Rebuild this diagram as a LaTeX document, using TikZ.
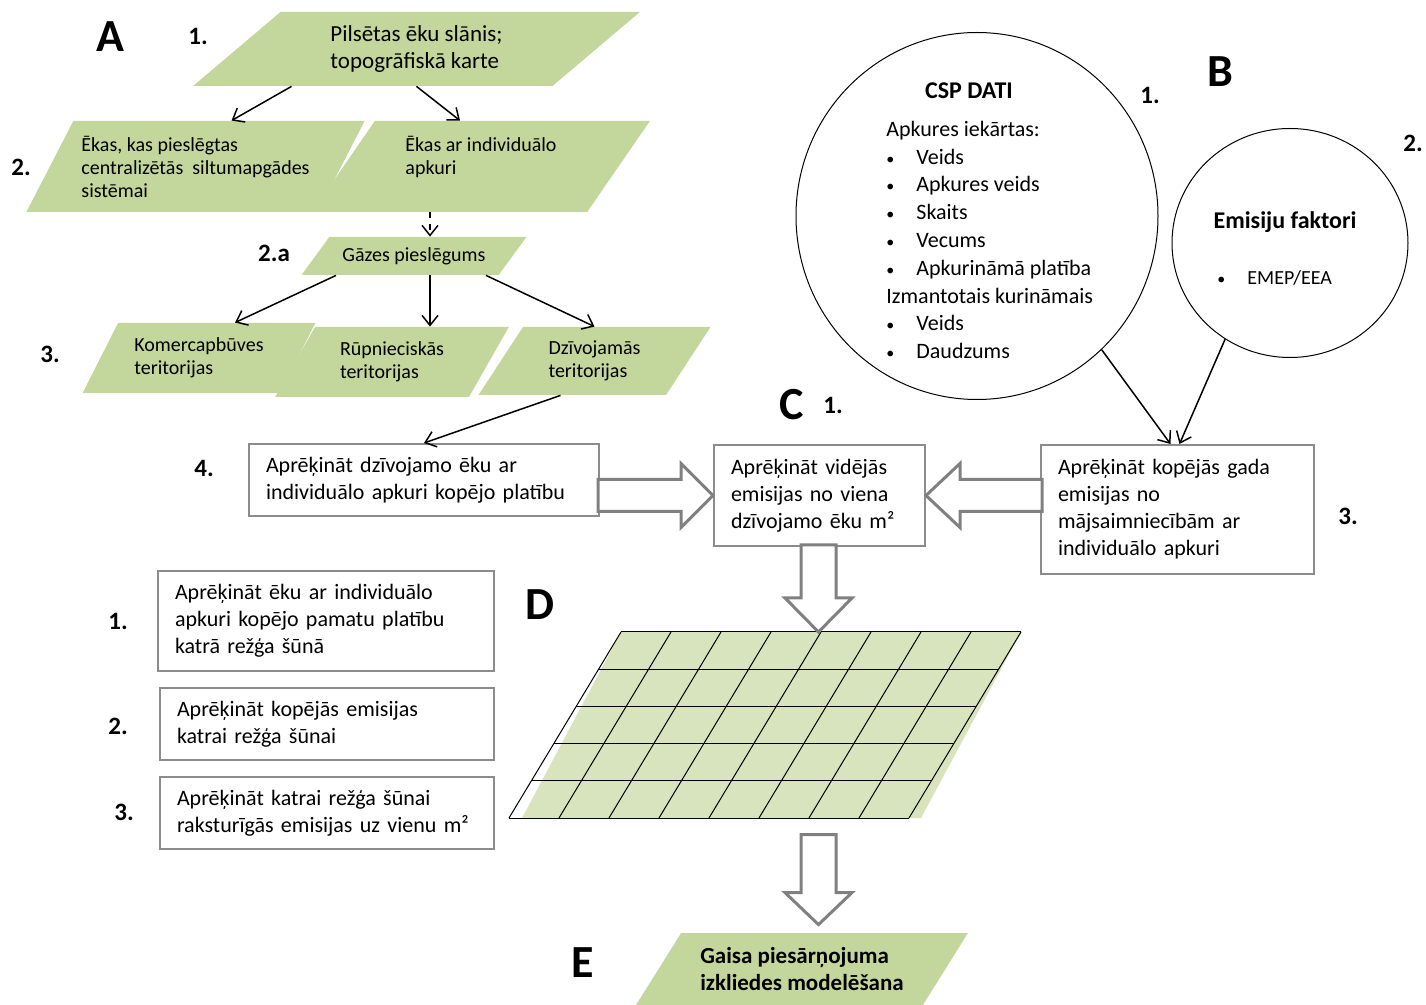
\documentclass[tikz,border=0pt]{standalone}
\usepackage{fontspec}
\setmainfont{Carlito}
\usepackage{tikz}
\usetikzlibrary{shapes,arrows.meta,positioning,calc}

\definecolor{paragreen}{HTML}{C3D69B}
\definecolor{gridgreen}{HTML}{D7E4BD}
\definecolor{arrowgray}{HTML}{808080}
\definecolor{boxgray}{HTML}{8C8C8C}
\newcommand{\bitem}[1]{\makebox[15pt][l]{\fontsize{8}{8}\selectfont\textbullet}#1}

\begin{document}
\begin{tikzpicture}[x=0.5pt, y=-0.5pt,
    para/.style={trapezium, trapezium stretches=true, fill=paragreen, inner sep=1pt, align=left, font=\fontsize{10}{11.5}\selectfont},
    calcbox/.style={rectangle, draw=boxgray, line width=1pt, fill=white, anchor=north west, align=left, inner xsep=8.5pt, font=\fontsize{11}{13.5}\selectfont},
    bubble/.style={ellipse, draw, line width=0.5pt, inner sep=0pt},
    title/.style={font=\bfseries\fontsize{12}{14}\selectfont},
    arrow/.style={-{Straight Barb[length=5pt,width=8pt]}, line width=0.75pt},
    blockarrow/.style={draw=arrowgray, line width=1.5pt, fill=white, line join=miter},
    gridline/.style={line width=0.5pt},
    num/.style={font=\bfseries\fontsize{12.5}{15}\selectfont},
    part/.style={font=\bfseries\fontsize{23}{27}\selectfont}
]
\useasboundingbox (0,0) rectangle (1426,1005);

% A: input layers
\node[para, font=\fontsize{11.5}{13.5}\selectfont, trapezium left angle=42, trapezium right angle=138, minimum width=223.5pt, minimum height=37pt] at (416.5,49) (layer) {Pilsētas ēku slānis;\\topogrāfiskā karte};
\node[para, trapezium left angle=55.7, trapezium right angle=124.3, minimum width=169.5pt, minimum height=45.5pt] at (195.5,166.5) (central) {Ēkas, kas pieslēgtas\\centralizētās\ \ siltumapgādes\\sistēmai};
\node[para, trapezium left angle=54.9, trapezium right angle=125.1, minimum width=169pt, minimum height=45.5pt] at (481,166.5) (individual) {Ēkas ar individuālo\\apkuri\\\mbox{}};
\node[para, trapezium left angle=41.5, trapezium right angle=138.5, minimum width=113pt, minimum height=19pt] at (414,256) (gas) {Gāzes pieslēgums};
\node[para, trapezium left angle=56.7, trapezium right angle=123.3, minimum width=117pt, minimum height=35pt] at (199,358) (commercial) {Komercapbūves\\teritorijas};
\node[para, trapezium left angle=57.8, trapezium right angle=122.2, minimum width=117pt, minimum height=35pt] at (392,362) (industrial) {Rūpnieciskās\\teritorijas};
\node[para, trapezium left angle=56, trapezium right angle=124, minimum width=116.5pt, minimum height=34pt] at (594.5,361) (residential) {Dzīvojamās\\teritorijas};

% A: arrows
\draw[arrow] ([xshift=-62.5pt]layer.south) -- ([xshift=18pt]central.north);
\draw[arrow] (layer.south) -- ([xshift=-10.5pt]individual.north);
\draw[arrow, dashed] ([xshift=8pt]gas.north |- individual.south) -- ([xshift=8pt]gas.north);
\draw[arrow] ([xshift=-39pt]gas.south) -- ([xshift=18pt]commercial.north);
\draw[arrow] ([xshift=8pt]gas.south) -- ([xshift=8pt]gas.south |- industrial.north);
\draw[arrow] ([xshift=36pt]gas.south) -- (residential.north);

% B: data sources
\node[bubble, minimum width=181pt, minimum height=183.5pt] at (977,216) (csp) {};
\node[title] at (969,91) (csptitle) {CSP DATI};
\node[anchor=west, align=left, inner sep=0pt, font=\fontsize{11}{13.9}\selectfont] at (886,240) (csplist) {
    Apkures iekārtas:\\
    \bitem{Veids}\\
    \bitem{Apkures veids}\\
    \bitem{Skaits}\\
    \bitem{Vecums}\\
    \bitem{Apkurināmā platība}\\
    Izmantotais kurināmais\\
    \bitem{Veids}\\
    \bitem{Daudzums}
};
\node[bubble, minimum width=118pt, minimum height=114.5pt] at (1290,243) (factors) {};
\node[title] at (1285,222) (factorstitle) {Emisiju faktori};
\node[anchor=west, inner sep=0pt] at (1217,278) (emep) {\bitem{EMEP/EEA}};

% hollow arrows (drawn under the boxes)
\coordinate (gridtop) at (818.5,632);
\coordinate (gridbot) at (818.5,818);

% C: calculation boxes
\node[calcbox, text width=158pt, minimum height=36pt] at (248,443) (area) {Aprēķināt dzīvojamo ēku ar\\individuālo apkuri kopējo platību};
\node[calcbox, text width=88.5pt, minimum height=50.5pt] at (713,444) (avg) {Aprēķināt vidējās\\emisijas no viena\\dzīvojamo ēku m²};
\node[calcbox, text width=119.5pt, minimum height=64.5pt] at (1040,444) (total) {Aprēķināt kopējās gada\\emisijas no\\mājsaimniecībām ar\\individuālo apkuri};

\draw[blockarrow] (avg.west) -- ++(-32,-32) -- ++(0,16) -- ++(-83,0) -- ++(0,32) -- ++(83,0) -- ++(0,16) -- cycle;
\draw[blockarrow] (avg.east) -- ++(34,-32) -- ++(0,16) -- ++(82,0) -- ++(0,32) -- ++(-82,0) -- ++(0,16) -- cycle;

\draw[arrow] ([xshift=-17pt]residential.south) -- (area.north);
\draw[arrow] (csp.-47) -- ([xshift=-3.5pt]total.north);
\draw[arrow] (factors.-124.5) -- ([xshift=1pt]total.north);

% D: grid steps
\node[calcbox, text width=151pt, minimum height=50pt] at (157,570) (cellarea) {Aprēķināt ēku ar individuālo\\apkuri kopējo pamatu platību\\katrā režģa šūnā};
\node[calcbox, text width=150pt, minimum height=36pt] at (159,687) (cellemis) {Aprēķināt kopējās emisijas\\katrai režģa šūnai};
\node[calcbox, text width=150pt, minimum height=36pt] at (159,776) (celldens) {Aprēķināt katrai režģa šūnai\\raksturīgās emisijas uz vienu m²};

% D: grid
\fill[gridgreen] (621,632) -- (1021,632) -- (921,818) -- (522,818) -- cycle;
\foreach \i in {0,...,8}
    \draw[gridline] (621+50*\i,632) -- (509+50*\i,818);
\foreach \j in {0,...,5}
    \draw[gridline] (621-22.4*\j,632+37.2*\j) -- (1021-22.4*\j,632+37.2*\j);

\draw[blockarrow] (gridtop) -- ++(-33.5,-34) -- ++(16,0) -- ++(0,-53) -- ++(35,0) -- ++(0,53) -- ++(16,0) -- cycle;

% E: dispersion modelling
\node[para, font=\bfseries\fontsize{11.5}{13.5}\selectfont, trapezium left angle=50.7, trapezium right angle=129.3, minimum width=166pt, minimum height=36pt] at (802,969) (model) {Gaisa piesārņojuma\\izkliedes modelēšana};
\coordinate (etip) at ($(model.north -| gridbot)+(0,-8)$);
\draw[blockarrow] (etip) -- ++(-33.5,-32) -- ++(16,0) -- ++(0,-58) -- ++(35,0) -- ++(0,58) -- ++(16,0) -- cycle;

% Labels
\node[part] at (110,37) (labA) {A};
\node[part] at (1220,72) (labB) {B};
\node[part] at (792,405) (labC) {C};
\node[part] at (540,605) (labD) {D};
\node[part] at (583,963) (labE) {E};
\node[num] at (198,36) (a1) {1.};
\node[num] at (21,167) (a2) {2.};
\node[num] at (274,253) (a2a) {2.a};
\node[num] at (50,354) (a3) {3.};
\node[num] at (204,468) (a4) {4.};
\node[num] at (1150,95) (b1) {1.};
\node[num] at (1413,143) (b2) {2.};
\node[num] at (1348,516) (b3) {3.};
\node[num] at (833,405) (c1) {1.};
\node[num] at (118,621) (d1) {1.};
\node[num] at (118,726) (d2) {2.};
\node[num] at (124,812) (d3) {3.};

\end{tikzpicture}
\end{document}
